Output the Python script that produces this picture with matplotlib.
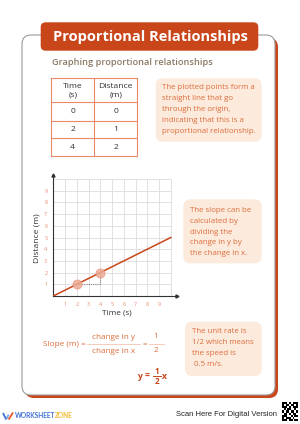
import numpy as np
import matplotlib.pyplot as plt
from matplotlib.patches import FancyBboxPatch

plt.rcParams['font.family'] = ['Open Sans', 'DejaVu Sans']

# datos de la tabla / grafica
time_s = [0, 2, 4]
distance_m = [0, 1, 2]
tick_vals = [1, 2, 3, 4, 5, 6, 7, 8, 9]
grid_vals = [1, 2, 3, 4, 5, 6, 7, 8, 9, 10]
line_x = [0, 10]

title = "Proportional Relationships"
subtitle = "Graphing proportional relationships"
note1 = ["The plotted points form a", "straight line that go", "through the origin,",
         "indicating that this is a", "proportional relationship."]
note2 = ["The slope can be", "calculated by", "dividing the", "change in y by", "the change in x."]
note3 = ["The unit rate is", "1/2 which means", "the speed is", " 0.5 m/s."]

# QR decorativo
qr = [[1, 1, 1, 0, 1, 0, 1, 1, 1],
      [1, 0, 1, 1, 0, 1, 1, 0, 1],
      [1, 1, 1, 0, 1, 0, 1, 1, 1],
      [0, 1, 0, 1, 1, 0, 0, 1, 0],
      [1, 0, 1, 1, 0, 1, 1, 0, 1],
      [0, 1, 1, 0, 1, 0, 1, 1, 0],
      [1, 1, 1, 0, 0, 1, 0, 1, 1],
      [1, 0, 1, 1, 1, 0, 1, 0, 0],
      [1, 1, 1, 0, 1, 1, 0, 1, 1]]

RED = '#C9461B'
TXT = '#DD6C3C'
BOX = '#FCEBDD'
TLINE = '#E8896A'
DARK = '#333333'

W, H = 300, 424
fig = plt.figure(figsize=(3, 4.24), dpi=100)
bg = fig.add_axes([0, 0, 1, 1])
bg.set_xlim(0, W)
bg.set_ylim(H, 0)
bg.axis('off')

# tarjeta con sombra
bg.add_patch(FancyBboxPatch((25, 38), 253, 360, boxstyle="round,pad=0,rounding_size=9",
                            fc=RED, ec='none', zorder=1))
bg.add_patch(FancyBboxPatch((22, 35), 253, 360, boxstyle="round,pad=0,rounding_size=9",
                            fc='white', ec='#9A9A9A', lw=0.8, zorder=2))

# titulo
bg.add_patch(FancyBboxPatch((40.7, 22.3), 217.6, 28.4, boxstyle="round,pad=0,rounding_size=5",
                            fc=RED, ec='none', zorder=3))
bg.text(150, 37, title, color='white', fontsize=10.5, fontweight='bold',
        ha='center', va='center', zorder=4)
bg.text(51.5, 62.7, subtitle, color='#8C7A66', fontsize=6.7, fontweight='semibold',
        ha='left', va='center', zorder=4)

# tabla
tx0, tx1, tx2 = 51, 94.3, 137.3
ty = [78.3, 102.3, 120.7, 138.3, 156]
for yy in ty:
    bg.plot([tx0, tx2], [yy, yy], color=TLINE, lw=0.8, zorder=4)
for xx in [tx0, tx1, tx2]:
    bg.plot([xx, xx], [ty[0], ty[-1]], color=TLINE, lw=0.8, zorder=4)
bg.text((tx0 + tx1) / 2, 90.5, "Time\n(s)", fontsize=6.1, color=DARK, ha='center',
        va='center', linespacing=1.35, zorder=4)
bg.text((tx1 + tx2) / 2, 90.5, "Distance\n(m)", fontsize=6.1, color=DARK, ha='center',
        va='center', linespacing=1.35, zorder=4)
for i in range(len(time_s)):
    yc = (ty[i + 1] + ty[i + 2]) / 2
    bg.text((tx0 + tx1) / 2, yc, str(time_s[i]), fontsize=6.1, color=DARK, ha='center', va='center', zorder=4)
    bg.text((tx1 + tx2) / 2, yc, str(distance_m[i]), fontsize=6.1, color=DARK, ha='center', va='center', zorder=4)


def nota(x, y, w, h, lines, tx, ty0, dy):
    bg.add_patch(FancyBboxPatch((x, y), w, h, boxstyle="round,pad=0,rounding_size=7",
                                fc=BOX, ec='none', zorder=3))
    for k, s in enumerate(lines):
        bg.text(tx, ty0 + k * dy, s, fontsize=5.7, color=TXT, ha='left', va='center', zorder=4)


nota(155.7, 78.3, 106, 63.4, note1, 162.3, 87.3, 11)
nota(183.3, 199.3, 78.4, 64, note2, 190, 210.5, 10.8)
nota(185, 321.7, 76.7, 54.3, note3, 192.5, 331.7, 10.8)

# grafica
ox, oy = 53.3, 296
ux, uy = 11.75, 11.7
xmax, ymax = 10.5, 10.3
ax = fig.add_axes([ox / W, (H - oy) / H, xmax * ux / W, ymax * uy / H])
ax.set_xlim(0, xmax)
ax.set_ylim(0, ymax)
ax.patch.set_alpha(0)
for sp in ax.spines.values():
    sp.set_visible(False)
ax.vlines(grid_vals, 0, 10, color='#DCDCDC', lw=0.6, zorder=1)
ax.hlines(grid_vals, 0, 10, color='#DCDCDC', lw=0.6, zorder=1)
ax.plot([0, xmax], [0, 0], color=DARK, lw=0.8, clip_on=False, zorder=3)
ax.plot([0, 0], [0, ymax], color=DARK, lw=0.8, clip_on=False, zorder=3)
ax.plot(xmax, 0, marker='>', ms=2.2, color=DARK, clip_on=False, zorder=3)
ax.plot(0, ymax, marker='^', ms=2.2, color=DARK, clip_on=False, zorder=3)

slope = distance_m[1] / time_s[1]
ax.plot(line_x, [slope * v for v in line_x], color=RED, lw=1.1, zorder=4)
ax.plot([time_s[1], time_s[2], time_s[2]], [distance_m[1], distance_m[1], distance_m[2]],
        color='#8A8A8A', lw=0.8, ls=(0, (1, 1)), zorder=3)
ax.plot(time_s[1:], distance_m[1:], 'o', ms=6.5, mfc='#EDAA94', mec='#E8977C', mew=0.6,
        alpha=0.85, zorder=5)

ax.set_xticks(tick_vals)
ax.set_yticks(tick_vals)
ax.tick_params(length=0, labelsize=3.9, labelcolor=TLINE, pad=4.3)

bg.text(117.3, 313.3, "Time (s)", fontsize=5.9, color=DARK, ha='center', va='center')
bg.text(37.3, 238.3, "Distance (m)", fontsize=6.1, color=DARK, ha='center', va='center',
        rotation=90)

# formula de la pendiente
bg.text(43, 345, "Slope (m) =", fontsize=5.9, color=TXT, ha='left', va='center')
bg.plot([86.7, 140], [344, 344], color='#F2C4B0', lw=0.6)
bg.text(113.3, 337.5, "change in y", fontsize=5.9, color=TXT, ha='center', va='center')
bg.text(113.3, 351.5, "change in x", fontsize=5.9, color=TXT, ha='center', va='center')
bg.text(145, 344.5, "=", fontsize=5.9, color=TXT, ha='center', va='center')
bg.plot([149, 164], [343.5, 343.5], color='#F2C4B0', lw=0.6)
bg.text(156, 337, "1", fontsize=5.9, color=TXT, ha='center', va='center')
bg.text(156, 350.3, "2", fontsize=5.9, color=TXT, ha='center', va='center')

bg.text(137.5, 376.5, "y", fontsize=6.2, color=RED, fontweight='bold', ha='left', va='center')
bg.text(147, 376.5, "=", fontsize=6.2, color=RED, fontweight='bold', ha='center', va='center')
bg.plot([152.5, 160.5], [376.3, 376.3], color=RED, lw=0.7)
bg.text(156.5, 371.6, "1", fontsize=5.8, color=RED, fontweight='bold', ha='center', va='center')
bg.text(156.5, 381.2, "2", fontsize=5.8, color=RED, fontweight='bold', ha='center', va='center')
bg.text(161.8, 376.3, "x", fontsize=6.2, color=RED, fontweight='bold', ha='left', va='center')

# pie de pagina
bg.plot([3, 6.2], [413, 419.5], color='#3D6FD8', lw=1.3, solid_capstyle='butt')
bg.plot([6.2, 8.6], [419.5, 414.5], color='#7FA2EC', lw=1.3, solid_capstyle='butt')
bg.plot([8.6, 13], [419.5, 412.5], color='#E8572A', lw=1.3, solid_capstyle='butt')
bg.text(15, 416, "WORKSHEET", fontsize=4.7, color='#3D6FD8', fontweight='bold',
        ha='left', va='center', family=['Lato', 'DejaVu Sans'])
bg.text(54.5, 416, "ZONE", fontsize=4.7, color='#F5B82E', fontweight='bold',
        ha='left', va='center', family=['Lato', 'DejaVu Sans'])
bg.text(277.3, 414.3, "Scan Here For Digital Version", fontsize=5.5, color='#222222',
        ha='right', va='center', family=['Liberation Sans', 'DejaVu Sans'])
bg.imshow(1 - np.array(qr), cmap='gray', extent=(281.7, 297.3, 420.7, 402),
          origin='upper', aspect='auto', interpolation='nearest', zorder=4)
bg.set_xlim(0, W)
bg.set_ylim(H, 0)

fig.savefig('out.png', dpi=100)
